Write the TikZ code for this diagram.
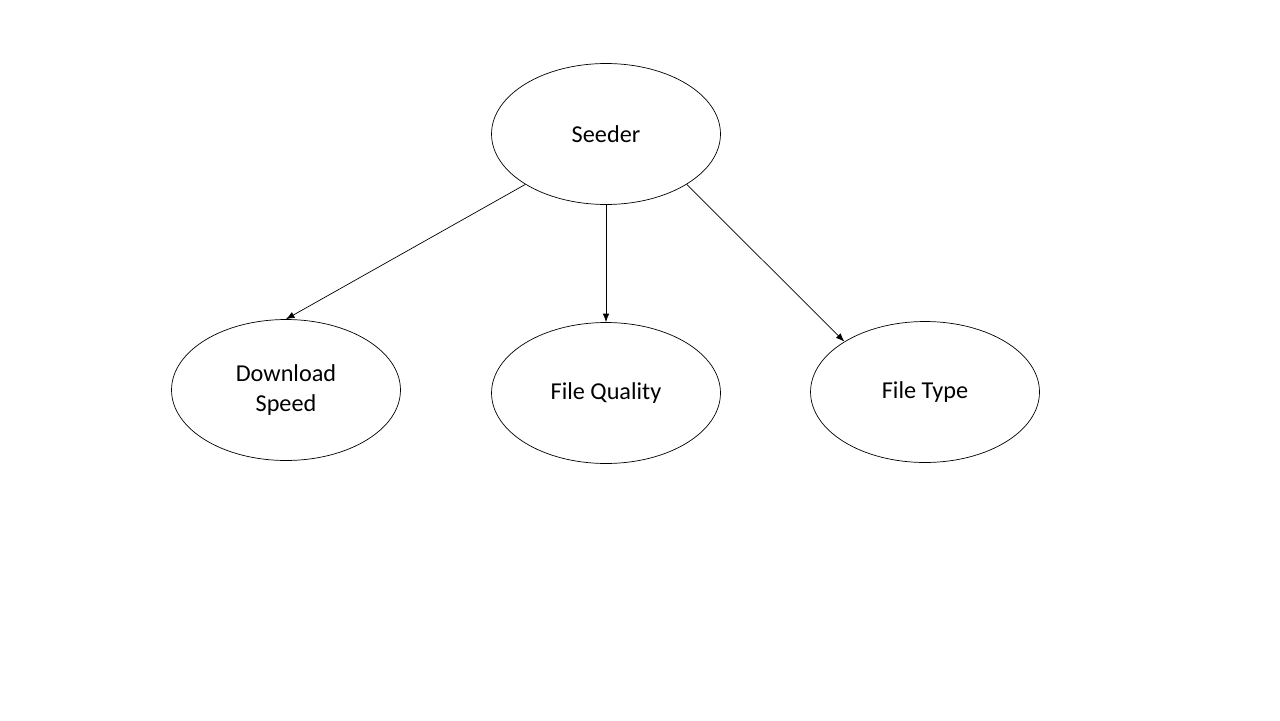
\documentclass[tikz,border=0pt]{standalone}
\usepackage{fontspec}
\setmainfont{Carlito}
\usetikzlibrary{shapes.geometric,arrows.meta,positioning}

\tikzset{
	topic/.style={draw, ellipse, line width=0.4pt, minimum width=4.58cm, minimum height=2.82cm, inner sep=0pt, align=center, font=\fontsize{13.8}{16.6}\selectfont},
	link/.style={-{Latex[length=0.17cm,width=0.13cm]}, line width=0.4pt}
}

\begin{document}
\begin{tikzpicture}[x=0.02cm,y=-0.02cm]
		\useasboundingbox (0,0) rectangle (1280,720);
		
		\node[topic] (seeder) at (606,134) {Seeder};
		\node[topic] (speed) at (286,390) {Download\\Speed};
		\node[topic] (quality) at (606,393) {File Quality};
		\node[topic] (type) at (925,392) {File Type};
		
		\draw[link] (seeder.212) -- (speed.north);
		\draw[link] (seeder.south) -- (quality.north);
		\draw[link] (seeder.-32) -- (type.148);
\end{tikzpicture}
\end{document}
